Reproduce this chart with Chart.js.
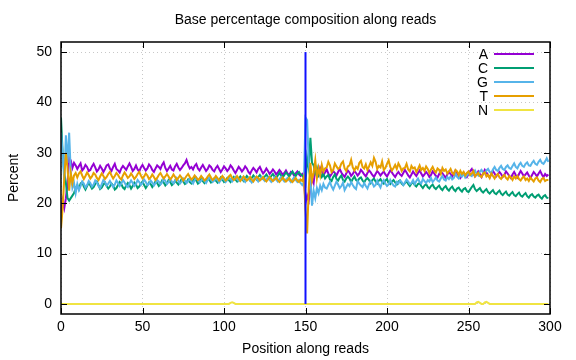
<!DOCTYPE html>
<html>
<head>
<meta charset="utf-8">
<script src="https://cdn.jsdelivr.net/npm/chart.js@4"></script>
<style>
  html, body { margin: 0; padding: 0; background: #fff; }
  canvas { display: block; }
</style>
</head>
<body>
<canvas id="chart" width="576" height="360"></canvas>
<script>
/* Base composition per position, read 1 = 0..149, read 2 = 150..299 */
const A = [
  18, 20.5, 19, 21, 24, 29, 28.5, 27, 28, 27.5,
  26.8, 27.4, 27.9, 26.5, 26.9, 27.6, 27.2, 26.4, 26.6, 27.3,
  27.8, 27.1, 26.3, 26.7, 27.4, 26.9, 26.2, 26.8, 27.5, 27.7,
  26.9, 26.4, 27.2, 27.8, 26.8, 26.5, 26.1, 26.9, 27.4, 27.0,
  26.6, 27.3, 27.9, 27.2, 26.4, 26.8, 27.5, 26.7, 26.3, 27.1,
  27.6, 27.0, 26.5, 26.9, 27.7, 27.3, 26.6, 26.2, 26.9, 27.5,
  27.2, 26.8, 27.6, 28.1, 27.0, 26.4, 26.9, 27.4, 26.7, 26.5,
  27.3, 27.8, 27.1, 26.6, 27.0, 27.5, 27.9, 28.6, 27.6, 26.9,
  27.2, 26.7, 27.4, 27.8, 26.9, 26.5, 27.1, 27.6, 27.0, 26.4,
  26.8, 27.5, 27.2, 26.6, 26.3, 27.0, 27.4, 26.8, 26.2, 26.7,
  27.3, 26.9, 26.4, 26.8, 27.5, 27.1, 26.5, 26.0, 26.6, 27.2,
  26.8, 26.3, 26.7, 27.3, 26.9, 26.2, 25.8, 26.5, 27.0, 26.6,
  26.1, 26.8, 27.2, 26.5, 25.9, 26.3, 26.9, 26.4, 25.8, 26.2,
  26.7, 26.3, 25.7, 26.1, 26.6, 26.2, 25.6, 26.0, 26.5, 25.9,
  25.6, 26.2, 26.0, 25.5, 25.9, 26.3, 25.7, 25.4, 25.8, 25.2,
  20, 21.5, 20.5, 23, 25, 24, 27, 26, 25.5, 27,
  26.3, 25.6, 26.1, 26.7, 25.9, 25.3, 25.8, 26.4, 26.0, 25.5,
  26.2, 26.8, 26.1, 25.6, 25.2, 25.9, 26.5, 26.1, 25.4, 25.8,
  26.4, 26.0, 25.5, 25.9, 26.6, 26.2, 25.7, 25.3, 26.0, 26.5,
  26.1, 25.6, 25.2, 25.8, 26.4, 26.0, 25.5, 25.9, 26.3, 25.7,
  25.3, 25.9, 26.5, 26.1, 25.6, 25.2, 25.8, 26.2, 25.7, 25.4,
  26.0, 26.6, 26.1, 25.5, 25.1, 25.7, 26.3, 25.8, 25.4, 26.0,
  26.5, 25.9, 25.3, 25.7, 26.2, 25.8, 25.2, 25.6, 26.3, 25.9,
  25.4, 25.1, 25.8, 26.4, 25.9, 25.5, 25.0, 25.7, 26.2, 25.8,
  25.3, 25.9, 26.5, 26.0, 25.4, 25.0, 25.6, 26.1, 25.7, 25.2,
  25.8, 26.4, 26.8, 25.9, 25.3, 25.7, 26.3, 25.8, 25.2, 25.9,
  26.6, 26.1, 25.5, 25.1, 25.8, 26.4, 25.9, 25.3, 25.7, 26.2,
  25.8, 25.2, 25.6, 26.3, 25.9, 25.4, 25.0, 25.7, 26.2, 25.6,
  25.1, 25.8, 26.4, 25.9, 25.3, 25.7, 26.1, 25.5, 25.0, 25.6,
  26.2, 25.8, 25.3, 25.9, 26.4, 25.7, 25.2, 25.8, 25.4, 25.7
];
const C = [
  37, 30, 26, 24, 21, 20.5, 21, 21.5, 22, 23,
  23.6, 22.8, 23.9, 24.2, 23.3, 22.7, 23.4, 24.0, 23.5, 22.9,
  23.2, 23.8, 24.3, 23.6, 22.8, 23.1, 23.7, 24.1, 23.4, 22.9,
  23.3, 23.9, 23.5, 22.7, 23.0, 23.6, 24.2, 23.8, 23.1, 22.8,
  23.5, 24.0, 23.6, 22.9, 23.4, 24.1, 23.7, 23.0, 23.3, 23.9,
  24.3, 23.6, 23.0, 23.5, 24.1, 23.8, 23.2, 23.7, 24.4, 24.0,
  23.4, 23.8, 24.5, 24.1, 23.5, 23.9, 24.6, 24.2, 23.6, 23.9,
  24.5, 24.1, 23.7, 24.2, 24.8, 24.3, 23.8, 24.1, 24.7, 24.2,
  23.9, 24.4, 24.9, 24.5, 23.9, 24.2, 24.8, 24.4, 24.0, 24.5,
  25.0, 24.6, 24.1, 24.4, 24.9, 24.5, 24.1, 24.6, 25.1, 24.7,
  24.2, 24.5, 25.0, 24.6, 24.2, 24.8, 25.2, 24.7, 24.3, 24.9,
  25.3, 24.8, 24.4, 24.9, 25.4, 25.0, 24.5, 25.0, 25.5, 25.1,
  24.7, 25.2, 25.6, 25.1, 24.8, 25.3, 25.7, 25.2, 24.9, 25.4,
  25.8, 25.3, 25.0, 25.5, 26.0, 25.5, 25.1, 25.6, 26.1, 25.7,
  25.3, 25.8, 26.3, 25.8, 25.4, 25.9, 26.2, 25.7, 25.5, 25.0,
  24, 29, 27, 33, 28, 27.5, 26, 27, 25.5, 26,
  25.2, 25.8, 24.9, 25.3, 25.6, 24.7, 24.4, 25.2, 25.7, 24.8,
  24.5, 25.1, 25.5, 24.6, 24.3, 24.9, 25.3, 24.9, 24.2, 24.8,
  25.3, 24.6, 24.4, 24.9, 25.1, 24.5, 24.1, 24.7, 25.0, 24.6,
  24.0, 24.6, 24.9, 24.3, 23.9, 24.5, 24.8, 24.2, 23.9, 24.5,
  24.8, 24.0, 23.8, 24.3, 24.6, 24.1, 23.7, 24.3, 24.5, 23.9,
  23.6, 24.0, 24.4, 23.8, 23.4, 23.9, 24.2, 23.6, 23.3, 23.8,
  24.0, 23.4, 23.0, 23.5, 23.8, 23.2, 22.9, 23.4, 23.7, 23.1,
  22.8, 23.2, 23.5, 22.9, 22.6, 23.1, 23.4, 22.8, 22.5, 23.0,
  23.3, 22.7, 22.4, 22.9, 23.1, 22.6, 22.3, 22.8, 23.0, 22.4,
  22.2, 22.7, 23.2, 23.6, 22.8, 22.4, 22.7, 23.0, 22.4, 22.1,
  22.5, 22.8, 22.2, 21.9, 22.3, 22.6, 22.0, 21.8, 22.2, 22.5,
  21.9, 21.6, 22.0, 22.3, 21.7, 21.5, 21.9, 22.2, 21.6, 21.4,
  21.8, 22.1, 21.5, 21.3, 21.7, 22.0, 21.4, 21.1, 21.6, 21.8,
  21.3, 21.1, 21.5, 21.7, 21.2, 20.9, 21.4, 21.6, 21.1, 21.0
];
const G = [
  34, 30, 24.5, 33.5, 28, 34, 26, 23, 24, 22,
  23.8, 22.6, 23.4, 24.3, 23.9, 23.1, 23.6, 24.4, 24.0, 23.3,
  23.7, 24.5, 24.1, 23.4, 23.0, 23.8, 24.6, 24.2, 23.5, 23.9,
  24.4, 23.8, 23.2, 23.7, 24.5, 24.0, 23.4, 23.9, 24.6, 24.1,
  23.5, 23.2, 23.9, 24.5, 24.0, 23.4, 23.8, 24.6, 24.2, 23.6,
  24.0, 24.7, 24.2, 23.6, 23.9, 24.5, 24.1, 23.5, 24.0, 24.6,
  24.3, 23.7, 24.1, 24.9, 24.4, 23.8, 24.2, 24.8, 24.3, 23.9,
  24.5, 25.0, 24.4, 23.9, 24.3, 24.9, 24.5, 24.0, 24.4, 24.8,
  24.3, 23.9, 24.6, 25.1, 24.6, 24.1, 24.5, 24.9, 24.4, 24.0,
  24.6, 25.1, 24.7, 24.2, 24.5, 25.0, 24.6, 24.1, 24.5, 25.0,
  24.7, 24.2, 24.6, 25.1, 24.8, 24.3, 24.7, 25.2, 24.8, 24.4,
  24.7, 25.1, 24.6, 24.2, 24.7, 25.0, 24.5, 24.1, 24.6, 25.1,
  24.8, 24.3, 24.7, 25.2, 24.8, 24.4, 24.8, 25.1, 24.6, 24.2,
  24.6, 25.1, 24.7, 24.3, 24.8, 25.2, 24.7, 24.3, 24.7, 25.0,
  24.6, 24.2, 24.7, 25.1, 24.6, 24.2, 24.6, 24.0, 23.6, 24.1,
  37, 36.5, 28, 25, 19.5, 22.5, 21, 23, 22, 23.5,
  22.6, 23.8, 23.1, 22.9, 23.6, 24.2, 23.3, 22.7, 23.5, 24.3,
  23.7, 23.0, 23.4, 24.1, 22.6, 23.2, 23.8, 23.4, 24.2, 23.6,
  23.1, 22.8, 24.4, 23.9, 23.5, 23.2, 24.0, 23.4, 22.9, 23.8,
  24.4, 24.0, 23.3, 23.6, 24.5, 23.7, 23.1, 24.1, 24.6, 23.9,
  23.4, 23.7, 24.6, 24.0, 23.5, 23.3, 24.2, 23.9, 24.5, 24.2,
  23.6, 24.1, 24.7, 24.3, 23.8, 24.0, 24.6, 23.8, 24.4, 24.9,
  24.2, 23.9, 24.8, 24.4, 24.0, 24.6, 24.3, 25.0, 24.2, 24.6,
  25.1, 24.5, 24.3, 24.9, 25.4, 24.7, 24.5, 25.2, 24.8, 25.3,
  24.7, 25.0, 25.8, 25.2, 24.9, 25.6, 25.3, 25.9, 25.1, 25.5,
  26.2, 25.6, 25.4, 26.0, 26.5, 25.8, 25.5, 26.3, 26.6, 26.0,
  25.9, 26.5, 26.8, 26.2, 26.0, 26.7, 27.2, 26.6, 26.4, 27.0,
  27.4, 26.8, 26.6, 27.2, 27.5, 27.0, 26.8, 27.4, 27.9, 27.2,
  26.9, 27.6, 28.0, 27.4, 27.2, 27.8, 28.1, 27.5, 27.4, 28.0,
  28.4, 27.8, 27.6, 28.2, 28.6, 28.0, 27.8, 28.3, 28.9, 28.2
];
const T = [
  15, 19, 25, 30, 27, 22.5, 26, 24, 25.5, 26,
  25.1, 25.9, 26.3, 25.5, 24.8, 25.4, 26.1, 25.6, 24.9, 25.3,
  26.0, 25.7, 25.0, 24.6, 25.3, 25.9, 25.4, 24.8, 25.2, 25.8,
  26.2, 25.5, 24.9, 25.4, 26.0, 25.6, 25.0, 24.7, 25.5, 26.1,
  25.6, 25.0, 25.3, 25.9, 25.4, 24.8, 25.2, 25.8, 26.2, 25.5,
  24.9, 25.3, 25.9, 25.5, 24.8, 25.1, 25.7, 25.2, 24.6, 25.0,
  25.6, 26.0, 25.4, 24.9, 25.3, 25.8, 25.3, 24.7, 25.1, 25.7,
  25.2, 24.6, 25.0, 25.5, 25.1, 24.5, 24.9, 25.4, 25.8, 25.2,
  24.7, 25.0, 25.5, 25.1, 24.6, 24.9, 25.4, 25.0, 24.5, 24.8,
  25.3, 25.7, 25.1, 24.6, 24.9, 25.4, 25.0, 24.5, 24.9, 25.4,
  25.0, 24.5, 24.8, 25.3, 25.6, 25.0, 24.6, 24.9, 25.4, 24.9,
  24.4, 24.8, 25.3, 24.9, 24.5, 24.8, 25.2, 24.7, 24.3, 24.8,
  25.3, 25.0, 24.5, 24.8, 25.2, 24.7, 24.3, 24.7, 25.2, 24.8,
  24.4, 24.7, 25.1, 24.6, 24.2, 24.6, 25.1, 24.7, 24.3, 24.6,
  25.0, 24.5, 24.2, 24.6, 25.0, 24.5, 24.2, 24.7, 24.4, 25.3,
  18.5, 14, 23, 28, 24.5, 26, 28.5, 25, 27, 25.5,
  27.6, 26.3, 26.9, 27.1, 28.2, 27.5, 26.2, 26.6, 27.9, 27.3,
  26.8, 27.0, 27.9, 28.3, 26.9, 26.4, 27.3, 27.5, 28.6, 27.1,
  26.5, 27.2, 26.8, 28.0, 28.4, 27.2, 26.9, 27.7, 26.6, 27.3,
  28.1, 27.4, 29.0, 28.2, 26.8, 27.4, 27.1, 28.3, 26.6, 27.0,
  27.8, 28.5, 27.2, 26.5, 27.0, 27.6, 26.8, 27.9, 27.3, 26.4,
  26.9, 27.0, 27.8, 26.7, 26.3, 27.4, 26.9, 27.1, 26.2, 26.8,
  27.5, 26.6, 27.0, 26.4, 27.3, 26.8, 26.0, 26.7, 27.2, 26.5,
  26.1, 26.9, 26.6, 25.8, 27.0, 26.4, 26.7, 25.9, 26.3, 26.8,
  26.0, 25.7, 26.6, 26.3, 25.6, 26.4, 25.8, 26.2, 25.5, 26.0,
  26.3, 25.6, 25.9, 26.4, 25.3, 25.7, 26.0, 25.4, 25.2, 25.9,
  26.1, 25.3, 25.6, 25.0, 25.9, 25.4, 24.9, 25.5, 25.8, 25.1,
  24.8, 25.3, 25.6, 25.0, 24.7, 25.4, 25.1, 24.6, 25.3, 24.9,
  25.4, 24.8, 24.5, 25.0, 25.3, 24.6, 24.9, 24.4, 25.1, 24.7,
  24.3, 24.9, 25.1, 24.5, 24.2, 24.8, 25.0, 24.4, 24.6, 24.6
];
const N = [
  0, 0, 0, 0, 0, 0, 0, 0, 0, 0, 0, 0, 0, 0, 0, 0, 0, 0, 0, 0, 0, 0, 0, 0, 0, 0, 0, 0, 0, 0,
  0, 0, 0, 0, 0, 0, 0, 0, 0, 0, 0, 0, 0, 0, 0, 0, 0, 0, 0, 0, 0, 0, 0, 0, 0, 0, 0, 0, 0, 0,
  0, 0, 0, 0, 0, 0, 0, 0, 0, 0, 0, 0, 0, 0, 0, 0, 0, 0, 0, 0, 0, 0, 0, 0, 0, 0, 0, 0, 0, 0,
  0, 0, 0, 0, 0, 0, 0, 0, 0, 0, 0, 0, 0, 0, 0.2, 0.3, 0.2, 0, 0, 0, 0, 0, 0, 0, 0, 0, 0, 0, 0, 0,
  0, 0, 0, 0, 0, 0, 0, 0, 0, 0, 0, 0, 0, 0, 0, 0, 0, 0, 0, 0, 0, 0, 0, 0, 0, 0, 0, 0, 0, 0,
  0, 0, 0, 0, 0, 0, 0, 0, 0, 0, 0, 0, 0, 0, 0, 0, 0, 0, 0, 0, 0, 0, 0, 0, 0, 0, 0, 0, 0, 0,
  0, 0, 0, 0, 0, 0, 0, 0, 0, 0, 0, 0, 0, 0, 0, 0, 0, 0, 0, 0, 0, 0, 0, 0, 0, 0, 0, 0, 0, 0,
  0, 0, 0, 0, 0, 0, 0, 0, 0, 0, 0, 0, 0, 0, 0, 0, 0, 0, 0, 0, 0, 0, 0, 0, 0, 0, 0, 0, 0, 0,
  0, 0, 0, 0, 0, 0, 0, 0, 0, 0, 0, 0, 0, 0, 0, 0.3, 0.4, 0.2, 0, 0, 0.3, 0.4, 0.2, 0, 0, 0, 0, 0, 0, 0,
  0, 0, 0, 0, 0, 0, 0, 0, 0, 0, 0, 0, 0, 0, 0, 0, 0, 0, 0, 0, 0, 0, 0, 0, 0, 0, 0, 0, 0, 0
];
/* read boundary marker */
const boundaryX = [150, 150];
const boundaryY = [0, 50];

const xTicks = [0, 50, 100, 150, 200, 250, 300];
const yTicks = [0, 10, 20, 30, 40, 50];
const seriesNames  = ['A', 'C', 'G', 'T', 'N'];
const seriesColors = ['#9400d3', '#009e73', '#56b4e9', '#e69f00', '#f0e442'];
const chartTitle = 'Base percentage composition along reads';

const FONT = "'Liberation Sans', Arial, sans-serif";
const positions = A.map((_, i) => i);
const toXY = vals => vals.map((v, i) => ({ x: positions[i], y: v }));

/* title centred over the plot area, like gnuplot */
const titlePlugin = {
  id: 'plotTitle',
  afterDraw(chart) {
    const { ctx, chartArea: a } = chart;
    ctx.save();
    ctx.font = '14px ' + FONT;
    ctx.fillStyle = '#000';
    ctx.textAlign = 'center';
    ctx.textBaseline = 'middle';
    ctx.fillText(chartTitle, (a.left + a.right) / 2, 20);
    ctx.restore();
  },
};

/* frame + inward tick marks */
const framePlugin = {
  id: 'frame',
  afterDraw(chart) {
    const { ctx, chartArea: a, scales: { x, y } } = chart;
    ctx.save();
    ctx.strokeStyle = '#000';
    ctx.lineWidth = 1;
    ctx.beginPath();
    xTicks.forEach(t => {
      const px = Math.round(x.getPixelForValue(t)) + 0.5;
      ctx.moveTo(px, a.bottom); ctx.lineTo(px, a.bottom - 6);
      ctx.moveTo(px, a.top);    ctx.lineTo(px, a.top + 6);
    });
    yTicks.forEach(t => {
      const py = Math.round(y.getPixelForValue(t)) + 0.5;
      ctx.moveTo(a.left, py);  ctx.lineTo(a.left + 6, py);
      ctx.moveTo(a.right, py); ctx.lineTo(a.right - 6, py);
    });
    ctx.stroke();
    ctx.lineWidth = 1.5;
    ctx.strokeRect(a.left, a.top, a.right - a.left, a.bottom - a.top);
    ctx.restore();
  },
};

/* key inside top-right: label then line sample */
const keyPlugin = {
  id: 'key',
  afterDraw(chart) {
    const { ctx } = chart;
    ctx.save();
    ctx.font = '14px ' + FONT;
    ctx.textAlign = 'right';
    ctx.textBaseline = 'middle';
    seriesNames.forEach((name, i) => {
      const yy = 54 + i * 14;
      ctx.fillStyle = '#000';
      ctx.fillText(name, 488, yy + 1);
      ctx.strokeStyle = seriesColors[i];
      ctx.lineWidth = 2;
      ctx.beginPath();
      ctx.moveTo(494, yy); ctx.lineTo(534, yy);
      ctx.stroke();
    });
    ctx.restore();
  },
};

const lineSet = (i, vals) => ({
  label: seriesNames[i],
  data: toXY(vals),
  borderColor: seriesColors[i],
  borderWidth: 2,
  pointRadius: 0,
  tension: 0,
  fill: false,
  order: 5 - i,
});

new Chart(document.getElementById('chart'), {
  type: 'line',
  data: {
    datasets: [
      lineSet(0, A),
      lineSet(1, C),
      lineSet(2, G),
      lineSet(3, T),
      lineSet(4, N),
      {
        label: 'boundary',
        data: boundaryX.map((bx, i) => ({ x: bx, y: boundaryY[i] })),
        borderColor: '#1010ff',
        borderWidth: 2,
        pointRadius: 0,
        order: 0,
      },
    ],
  },
  options: {
    responsive: false,
    animation: false,
    layout: { padding: { left: 0, right: 26, top: 42, bottom: 0 } },
    plugins: {
      legend: { display: false },
      tooltip: { enabled: false },
      title: { display: false },
    },
    scales: {
      x: {
        type: 'linear',
        min: 0, max: 300,
        afterFit: s => { s.height = 46; },
        afterBuildTicks: s => { s.ticks = xTicks.map(v => ({ value: v })); },
        grid: { color: '#c8c8c8', drawTicks: false, lineWidth: 1 },
        border: { display: false, dash: [1, 3] },
        ticks: { color: '#000', padding: 5, maxRotation: 0, font: { family: FONT, size: 14 } },
        title: {
          display: true, text: 'Position along reads', color: '#000',
          font: { family: FONT, size: 14 }, padding: { top: 2, bottom: 2 },
        },
      },
      y: {
        type: 'linear',
        min: -2, max: 52,
        afterFit: s => { s.width = 61; },
        afterBuildTicks: s => { s.ticks = yTicks.map(v => ({ value: v })); },
        grid: { color: '#c8c8c8', drawTicks: false, lineWidth: 1 },
        border: { display: false, dash: [1, 3] },
        ticks: { color: '#000', padding: 9, font: { family: FONT, size: 14 } },
        title: {
          display: true, text: 'Percent', color: '#000',
          font: { family: FONT, size: 14 }, padding: { top: 6, bottom: 4 },
        },
      },
    },
  },
  plugins: [framePlugin, keyPlugin, titlePlugin],
});
</script>
</body>
</html>
